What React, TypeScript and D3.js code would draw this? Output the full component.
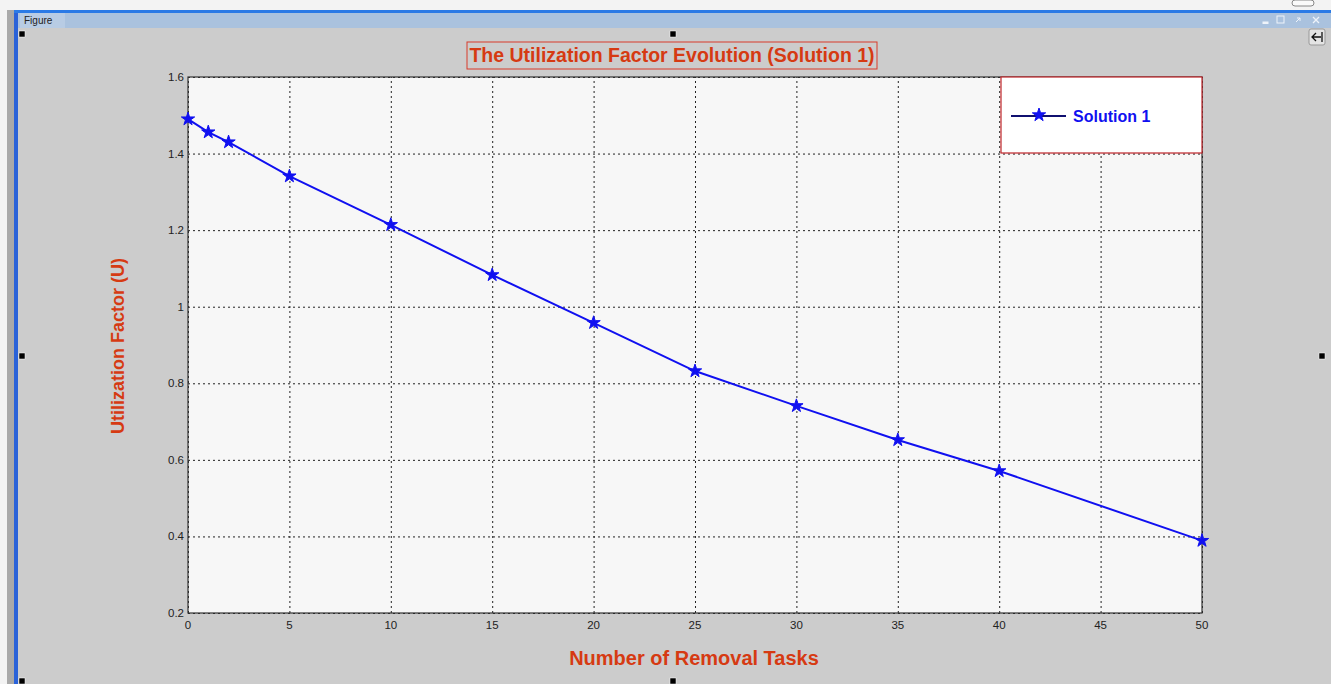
import { useEffect, useRef } from "react";
import * as d3 from "d3";

// data
const tasks = [0, 1, 2, 5, 10, 15, 20, 25, 30, 35, 40, 50];
const utilization = [1.49, 1.456, 1.43, 1.341, 1.214, 1.083, 0.958, 0.832, 0.741, 0.652, 0.571, 0.389];
const xTicks = [0, 5, 10, 15, 20, 25, 30, 35, 40, 45, 50];
const yTicks = [0.2, 0.4, 0.6, 0.8, 1, 1.2, 1.4, 1.6];
const seriesName = "Solution 1";

const W = 1331;
const H = 684;
const RED = "#d63a12";
const BLUE = "#1010f0";

const App = () => {
  const svgRef = useRef<SVGSVGElement>(null);

  useEffect(() => {
    const svg = d3.select(svgRef.current);
    svg.selectAll("*").remove();

    // window chrome
    svg.append("rect").attr("width", W).attr("height", H).attr("fill", "#cccccc");
    svg.append("rect").attr("width", W).attr("height", 10).attr("fill", "#f3f3f3");
    svg.append("rect").attr("x", 0).attr("y", 0).attr("width", 7).attr("height", H).attr("fill", "#f3f3f3");
    svg.append("rect").attr("x", 7).attr("y", 10).attr("width", 7).attr("height", H).attr("fill", "#a9a9a9");
    svg.append("rect").attr("x", 14).attr("y", 10).attr("width", 4).attr("height", H).attr("fill", "#2a62d8");
    svg.append("rect").attr("x", 14).attr("y", 10).attr("width", W).attr("height", 3).attr("fill", "#2a7ae6");
    svg.append("rect").attr("x", 18).attr("y", 13).attr("width", W).attr("height", 15).attr("fill", "#aac2de");
    svg.append("rect").attr("x", 20).attr("y", 13).attr("width", 45).attr("height", 15).attr("fill", "#b8cce4");
    svg.append("text").attr("x", 24).attr("y", 24).attr("font-family", "Liberation Sans, Arial")
      .attr("font-size", 10).attr("fill", "#222").text("Figure");
    // window buttons
    const btn = svg.append("g").attr("fill", "#eef3fa").attr("stroke", "#eef3fa");
    btn.append("rect").attr("x", 1263).attr("y", 22).attr("width", 5).attr("height", 1.5);
    btn.append("rect").attr("x", 1277).attr("y", 16).attr("width", 7).attr("height", 7).attr("fill", "none");
    btn.append("path").attr("d", "M1296,22 L1300,18 M1297,18 L1300,18 L1300,21").attr("fill", "none");
    btn.append("path").attr("d", "M1313,17 L1319,23 M1319,17 L1313,23").attr("fill", "none").attr("stroke-width", 1.3);
    svg.append("rect").attr("x", 1309).attr("y", 29).attr("width", 16).attr("height", 16).attr("rx", 2)
      .attr("fill", "#e4e4e4").attr("stroke", "#999");
    svg.append("path").attr("d", "M1321,37 L1312,37 M1316,33 L1312,37 L1316,41 M1322,32 L1322,42")
      .attr("fill", "none").attr("stroke", "#111").attr("stroke-width", 1.3);
    svg.append("rect").attr("x", 1292).attr("y", 0).attr("width", 22).attr("height", 6).attr("rx", 3)
      .attr("fill", "#fafafa").attr("stroke", "#888");

    // selection handles
    const handles = [[22, 34], [673, 34], [22, 356], [1322, 356], [22, 681], [673, 681]];
    svg.append("g").selectAll("rect").data(handles).enter().append("rect")
      .attr("x", (d) => d[0] - 3).attr("y", (d) => d[1] - 3)
      .attr("width", 6).attr("height", 6).attr("fill", "#000").attr("stroke", "#fff").attr("stroke-width", 0.5);

    // plot area
    const left = 188, right = 1202, top = 77, bottom = 613;
    const x = d3.scaleLinear().domain([0, 50]).range([left, right]);
    const y = d3.scaleLinear().domain([0.2, 1.6]).range([bottom, top]);

    svg.append("rect").attr("x", left).attr("y", top).attr("width", right - left).attr("height", bottom - top)
      .attr("fill", "#f7f7f7");

    // grid lines
    svg.append("g")
      .attr("transform", `translate(0,${bottom})`)
      .call(d3.axisBottom(x).tickValues(xTicks).tickSize(-(bottom - top)).tickFormat(() => ""))
      .call((g) => g.select(".domain").remove())
      .selectAll(".tick line")
      .attr("stroke", "#222").attr("stroke-dasharray", "2,3");
    svg.append("g")
      .attr("transform", `translate(${left},0)`)
      .call(d3.axisLeft(y).tickValues(yTicks).tickSize(-(right - left)).tickFormat(() => ""))
      .call((g) => g.select(".domain").remove())
      .selectAll(".tick line")
      .attr("stroke", "#222").attr("stroke-dasharray", "2,3");

    // frame
    svg.append("rect").attr("x", left).attr("y", top).attr("width", right - left).attr("height", bottom - top)
      .attr("fill", "none").attr("stroke", "#333").attr("stroke-width", 1.2);

    // tick labels
    svg.append("g").selectAll("text").data(xTicks).enter().append("text")
      .attr("x", (d) => x(d)).attr("y", bottom + 16)
      .attr("text-anchor", "middle").attr("font-family", "Liberation Sans, Arial").attr("font-size", 11.5)
      .attr("fill", "#222").text((d) => String(d));
    svg.append("g").selectAll("text").data(yTicks).enter().append("text")
      .attr("x", left - 4).attr("y", (d) => y(d) + 4)
      .attr("text-anchor", "end").attr("font-family", "Liberation Sans, Arial").attr("font-size", 11.5)
      .attr("fill", "#222").text((d) => d3.format("~g")(d));

    // series
    const pts = tasks.map((t, i) => ({ t, u: utilization[i] }));
    const line = d3.line<{ t: number; u: number }>().x((d) => x(d.t)).y((d) => y(d.u));
    svg.append("path").datum(pts).attr("d", line)
      .attr("fill", "none").attr("stroke", BLUE).attr("stroke-width", 2);
    const star = d3.symbol().type(d3.symbolStar).size(55);
    svg.append("g").selectAll("path").data(pts).enter().append("path")
      .attr("d", star).attr("transform", (d) => `translate(${x(d.t)},${y(d.u)})`)
      .attr("fill", BLUE).attr("stroke", BLUE).attr("stroke-width", 1);

    // legend
    const lg = svg.append("g");
    lg.append("rect").attr("x", 1001).attr("y", 77).attr("width", 201).attr("height", 76)
      .attr("fill", "#ffffff").attr("stroke", "#c0262a").attr("stroke-width", 1.2);
    lg.append("line").attr("x1", 1011).attr("x2", 1066).attr("y1", 116).attr("y2", 116)
      .attr("stroke", "#101070").attr("stroke-width", 2);
    lg.append("path").attr("d", star).attr("transform", "translate(1039,115)").attr("fill", BLUE).attr("stroke", BLUE);
    lg.append("text").attr("x", 1073).attr("y", 122).attr("font-family", "Liberation Sans, Arial")
      .attr("font-weight", "bold").attr("font-size", 16).attr("fill", BLUE).text(seriesName);

    // title
    svg.append("rect").attr("x", 467).attr("y", 42).attr("width", 410).attr("height", 27)
      .attr("fill", "none").attr("stroke", "#d83a2a").attr("stroke-width", 1);
    svg.append("text").attr("x", 672).attr("y", 62).attr("text-anchor", "middle")
      .attr("font-family", "Liberation Sans, Arial").attr("font-weight", "bold").attr("font-size", 19.5)
      .attr("fill", RED).text("The Utilization Factor Evolution (Solution 1)");

    // axis labels
    svg.append("text").attr("x", 694).attr("y", 665).attr("text-anchor", "middle")
      .attr("font-family", "Liberation Sans, Arial").attr("font-weight", "bold").attr("font-size", 20)
      .attr("fill", RED).text("Number of Removal Tasks");
    svg.append("text").attr("transform", "translate(124,346) rotate(-90)").attr("text-anchor", "middle")
      .attr("font-family", "Liberation Sans, Arial").attr("font-weight", "bold").attr("font-size", 18)
      .attr("fill", RED).text("Utilization Factor (U)");
  }, []);

  return (
    <svg
      ref={svgRef}
      width={W}
      height={H}
      style={{ position: "absolute", left: 0, top: 0, display: "block" }}
    />
  );
};

export default App;
